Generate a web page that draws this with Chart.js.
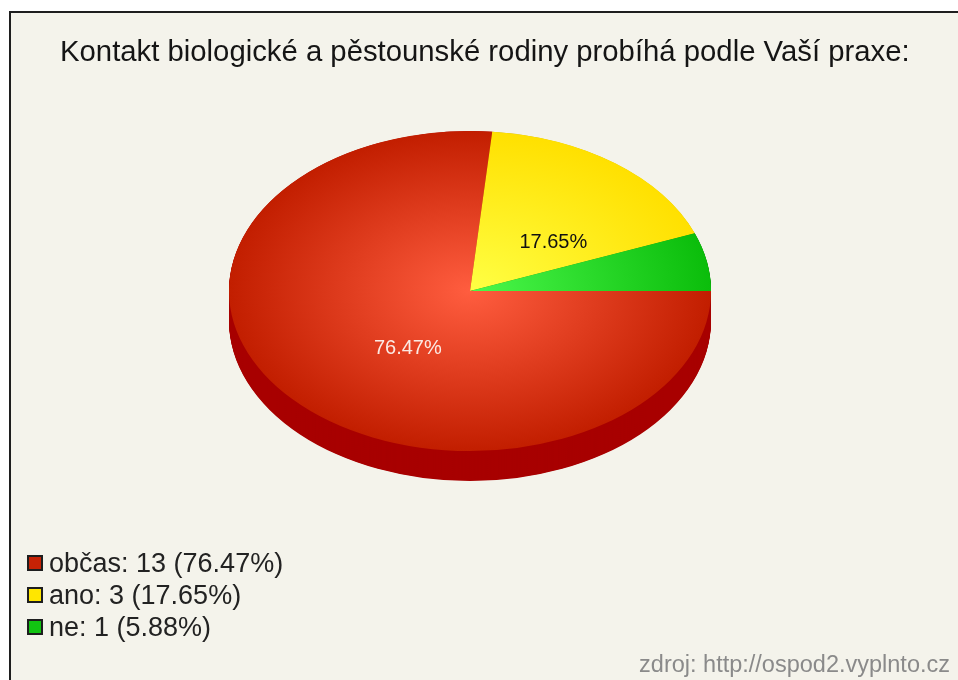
<!DOCTYPE html>
<html lang="cs">
<head>
<meta charset="utf-8">
<title>Kontakt biologické a pěstounské rodiny</title>
<script src="https://cdn.jsdelivr.net/npm/chart.js@4.4.1/dist/chart.umd.min.js"></script>
<style>
  html, body { margin:0; padding:0; background:#fff; }
  body { width:958px; height:680px; position:relative; overflow:hidden; font-family:"Liberation Sans", Arial, sans-serif; }
  #frame { position:absolute; left:9px; top:11px; right:0; bottom:0; background:#f4f3eb; border-left:2px solid #1e1e1e; border-top:2px solid #1e1e1e; }
  #chart { position:absolute; left:0; top:0; }
  #title { position:absolute; left:60px; top:33px; font-size:29.3px; line-height:36px; color:#151515; white-space:nowrap; }
  #legend { position:absolute; left:27px; top:547px; font-size:27px; color:#222; }
  #legend .row { display:flex; align-items:center; height:32px; white-space:nowrap; }
  #legend .box { width:12px; height:12px; border:2px solid #1e1e1e; margin-right:6px; }
  #source { position:absolute; right:8px; bottom:2px; font-size:23.5px; color:#8a8a8a; }
</style>
</head>
<body>
<div id="frame"></div>
<canvas id="chart" width="958" height="680"></canvas>
<div id="title"></div>
<div id="legend"></div>
<div id="source"></div>
<script>
// data
const labels = ['občas', 'ano', 'ne'];
const counts = [13, 3, 1];
const titleText = 'Kontakt biologické a pěstounské rodiny probíhá podle Vaší praxe:';
const sourceText = 'zdroj: http://ospod2.vyplnto.cz';

// barvy
const innerColors = ['#ff5d3f', '#ffff44', '#4cf84c'];
const outerColors = ['#c21e00', '#ffe000', '#0bbd0b'];
const sideColors = ['#a80000', '#c8a800', '#088a08'];
const legendColors = ['#c62205', '#ffe600', '#12c412'];
const pctColors = ['#fbe9e3', '#111111', '#111111'];

const PIE_R = 241, TILT = 0.664, DEPTH = 30;
const LABEL_POS = 0.45, LABEL_DX = 18, LABEL_DY = 9;
const FONT = '"Liberation Sans", Arial, sans-serif';

const total = counts.reduce((a, b) => a + b, 0);
const pct = counts.map(c => (c / total * 100).toFixed(2));

// titulek, legenda, zdroj
document.getElementById('title').textContent = titleText;
document.getElementById('legend').innerHTML = labels.map((l, i) =>
  `<div class="row"><span class="box" style="background:${legendColors[i]}"></span>${l}: ${counts[i]} (${pct[i]}%)</div>`
).join('');
document.getElementById('source').textContent = sourceText;

function sliceFill(c) {
  const area = c.chart.chartArea;
  if (!area) return outerColors[c.dataIndex];
  const cx = (area.left + area.right) / 2, cy = (area.top + area.bottom) / 2;
  const g = c.chart.ctx.createRadialGradient(cx, cy, 0, cx, cy, PIE_R);
  g.addColorStop(0, innerColors[c.dataIndex]);
  g.addColorStop(1, outerColors[c.dataIndex]);
  return g;
}

// "3D" kolac: zplostit + bocni stena
const pie3d = {
  id: 'pie3d',
  beforeDatasetsDraw(chart) {
    const ctx = chart.ctx, arcs = chart.getDatasetMeta(0).data;
    const cx = arcs[0].x, cy = arcs[0].y;
    ctx.save();
    ctx.translate(cx, cy); ctx.scale(1, TILT); ctx.translate(-cx, -cy);
    // od zadu dopredu
    let order = arcs.map((a, i) => i).sort((i, j) =>
      Math.sin((arcs[i].startAngle + arcs[i].endAngle) / 2) - Math.sin((arcs[j].startAngle + arcs[j].endAngle) / 2));
    order.forEach(i => {
      const a = arcs[i];
      ctx.fillStyle = sideColors[i];
      for (let d = DEPTH / TILT; d > 0; d -= 1) {
        ctx.beginPath();
        ctx.moveTo(a.x, a.y + d);
        ctx.arc(a.x, a.y + d, a.outerRadius, a.startAngle, a.endAngle);
        ctx.closePath();
        ctx.fill();
      }
    });
  },
  afterDatasetsDraw(chart) {
    const ctx = chart.ctx;
    ctx.restore();
    const arcs = chart.getDatasetMeta(0).data;
    ctx.save();
    ctx.font = '20px ' + FONT;
    ctx.textAlign = 'center'; ctx.textBaseline = 'middle';
    arcs.forEach((a, i) => {
      if (counts[i] / total < 0.1) return;
      const mid = (a.startAngle + a.endAngle) / 2, r = a.outerRadius * LABEL_POS;
      ctx.fillStyle = pctColors[i];
      ctx.fillText(pct[i] + '%', a.x + Math.cos(mid) * r + LABEL_DX, a.y + Math.sin(mid) * r * TILT + LABEL_DY);
    });
    ctx.restore();
  }
};

Chart.defaults.font.family = FONT;
new Chart(document.getElementById('chart'), {
  type: 'pie',
  data: {
    labels: labels,
    datasets: [{
      data: counts,
      backgroundColor: sliceFill,
      borderWidth: 0,
      radius: PIE_R,
      rotation: 90
    }]
  },
  options: {
    responsive: false,
    devicePixelRatio: 1,
    animation: false,
    events: [],
    layout: { padding: { left: 59, right: 77, top: 80, bottom: 178 } },
    plugins: {
      legend: { display: false },
      tooltip: { enabled: false },
      title: { display: false }
    }
  },
  plugins: [pie3d]
});
</script>
</body>
</html>
